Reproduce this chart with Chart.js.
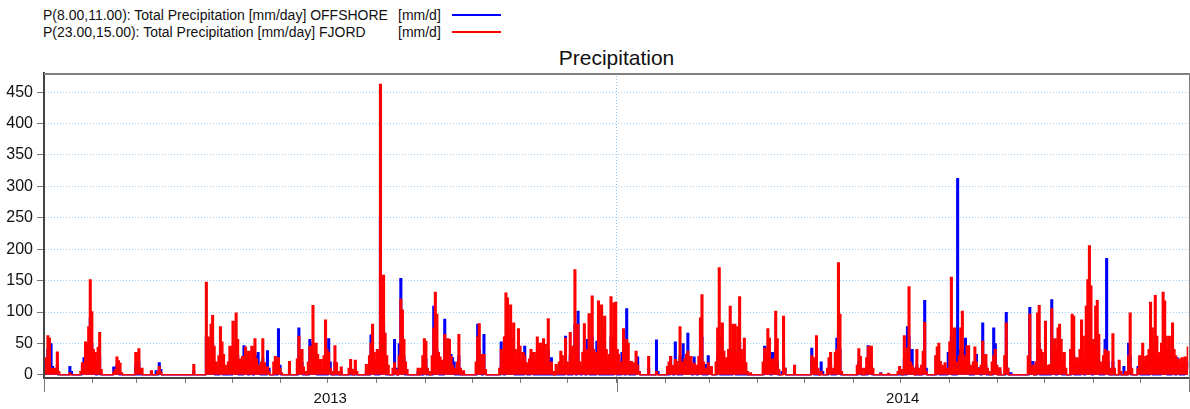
<!DOCTYPE html>
<html>
<head>
<meta charset="utf-8">
<script src="https://cdn.jsdelivr.net/npm/chart.js@4.4.1/dist/chart.umd.min.js"></script>
<style>
  html, body { margin: 0; padding: 0; background: #fff; }
  body { width: 1190px; height: 409px; position: relative; overflow: hidden; font-family: "Liberation Sans", Arial, sans-serif; }
  #chartBox { position: absolute; left: 0; top: 0; width: 1190px; height: 409px; }
  .legend-row { position: absolute; left: 43px; font-size: 14px; color: #111; white-space: nowrap; line-height: 16px; }
  .legend-unit { position: absolute; left: 398px; font-size: 14px; color: #111; line-height: 16px; }
  .legend-line { position: absolute; left: 452px; width: 49px; height: 2px; }
  #title { position: absolute; left: 44px; width: 1145px; top: 46px; text-align: center; font-size: 21px; color: #111; }
</style>
</head>
<body>
<div class="legend-row" style="top:7px">P(8.00,11.00): Total Precipitation [mm/day] OFFSHORE</div>
<div class="legend-unit" style="top:7px">[mm/d]</div>
<div class="legend-line" style="top:14px;background:#0000ff"></div>
<div class="legend-row" style="top:24px">P(23.00,15.00): Total Precipitation [mm/day] FJORD</div>
<div class="legend-unit" style="top:24px">[mm/d]</div>
<div class="legend-line" style="top:31px;background:#ff0000"></div>
<div id="title">Precipitation</div>
<div id="chartBox"><canvas id="rainChart" width="1190" height="409"></canvas></div>

<script>
// ============================
// DATA (day 0 = 1 Jan 2013, 730 days)
// ============================
const DAYS = 730;
const monthStarts = [0, 31, 59, 90, 120, 151, 181, 212, 243, 273, 304, 334,
  365, 396, 424, 455, 485, 516, 546, 577, 608, 638, 669, 699, 730];
const yearStarts = [0, 365, 730];
const yearLabels = ["2013", "2014"];
const yTicks = [0, 50, 100, 150, 200, 250, 300, 350, 400, 450];

// [day, mm/day] - FJORD, P(23.00,15.00)
const fjordRain = [
  [0,27],[1,20],[2,62],[3,58],[4,10],[5,8],[6,10],[7,6],[8,36],[9,5],[16,3],[23,5],[24,19],[25,15],
  [26,52],[27,45],[28,76],[29,151],[30,100],[31,40],[32,35],[33,20],[34,43],[35,67],[36,8],
  [44,4],[45,8],[46,28],[47,22],[48,18],[49,3],[58,35],[59,12],[60,41],[61,8],[62,10],
  [68,6],[72,5],[73,13],[74,4],[95,16],
  [103,147],[104,60],[105,37],[106,80],[107,94],[108,45],[109,20],[110,10],[111,30],[112,76],[113,52],
  [114,32],[115,15],[116,5],[117,20],[118,45],[119,42],[120,85],[121,40],[122,98],[123,56],[124,19],
  [125,25],[126,29],[127,29],[128,44],[129,30],[130,37],[131,20],[132,45],[133,37],[134,57],[135,25],
  [136,15],[137,8],[138,20],[139,57],[140,19],[141,10],[142,12],[143,5],[146,20],[147,29],[148,25],
  [149,27],[150,10],[151,3],[156,21],
  [161,25],[162,61],[163,30],[164,40],[165,12],[166,5],[168,20],[169,45],[170,25],[171,110],[172,35],
  [173,50],[174,32],[175,20],[176,24],[177,10],[178,30],[179,87],[180,40],[181,35],[182,10],[183,5],
  [185,46],[186,19],[187,5],[189,12],[194,10],[195,24],[196,8],[198,23],[199,5],
  [205,16],[207,30],[208,50],[209,80],[210,35],[211,20],[212,40],[213,30],[214,462],[215,140],[216,158],
  [217,66],[218,30],[219,15],[222,10],[223,19],[224,8],[226,30],[227,120],[228,103],[229,56],[230,20],
  [231,8],[238,10],[240,10],[241,30],[242,57],[243,53],[244,10],[245,5],
  [247,30],[248,74],[249,131],[250,96],[251,35],[252,28],[253,23],[254,10],[255,64],[256,30],[257,57],
  [258,56],[259,29],[260,15],[261,10],[262,8],[263,20],[264,64],[265,10],[267,6],
  [275,20],[276,60],[277,81],[278,32],[279,20],[280,32],[281,8],
  [290,10],[291,40],[292,30],[293,60],[294,130],[295,122],[296,70],[297,111],[298,58],[299,82],[300,40],
  [301,30],[302,73],[303,45],[304,20],[305,35],[306,30],[307,19],[308,10],[309,25],[310,40],[311,30],
  [312,35],[313,20],[314,60],[315,40],[316,50],[317,35],[318,57],[319,48],[320,20],[321,89],[322,15],
  [323,20],[324,5],[326,16],[327,5],
  [328,20],[329,37],[330,30],[331,15],[332,58],[333,20],[334,10],[335,67],[336,40],[337,45],[338,167],
  [339,60],[340,80],[341,20],[342,10],[343,35],[344,81],[345,40],[346,30],[347,97],[348,50],[349,125],
  [350,40],[351,20],[352,35],[353,117],[354,60],[355,111],[356,73],[357,93],[358,40],[359,20],[360,32],
  [361,124],[362,60],[363,114],[364,115],
  [365,40],[366,32],[367,15],[368,20],[369,73],[370,27],[371,56],[372,50],[373,15],[374,21],[375,19],
  [376,10],[377,37],[378,15],[379,5],[385,29],[390,5],
  [397,13],[398,20],[399,29],[400,10],[401,15],[402,24],[403,21],[404,10],[405,76],[406,20],[407,15],
  [408,25],[409,32],[410,37],[411,20],[412,29],[413,10],[414,18],[415,10],[416,15],[417,29],[418,90],
  [419,127],[420,20],[421,10],[422,8],[423,19],[424,5],[425,13],
  [428,20],[429,74],[430,170],[431,40],[432,82],[433,37],[434,20],[435,27],[436,40],[437,109],[438,30],
  [439,80],[440,80],[441,30],[442,76],[443,124],[444,40],[445,20],[446,58],[447,19],[448,5],[450,3],
  [458,20],[459,42],[460,30],[461,73],[462,58],[463,20],[464,25],[465,10],[466,101],[467,57],[468,8],
  [471,93],[472,10],[478,15],
  [489,30],[490,27],[491,20],[492,62],[493,10],[495,5],[499,10],[500,27],[501,35],[502,5],[503,10],
  [504,35],[505,40],[506,178],[507,96],[508,5],
  [518,15],[519,41],[520,29],[521,10],[523,10],[524,27],[525,44],[526,45],[527,45],[528,10],
  [533,2],[538,2],[544,5],[545,13],[546,8],[548,62],[549,30],[550,42],[551,140],[552,20],[553,15],
  [554,10],[556,40],[557,10],[559,15],[560,37],[561,83],[562,5],
  [568,30],[569,44],[570,50],[571,21],[572,15],[573,10],[574,19],[575,10],[576,5],[577,52],[578,155],
  [579,30],[580,74],[581,20],[582,10],[583,30],[584,74],[585,101],[586,25],[587,30],[588,46],[589,46],
  [590,15],[591,10],[592,20],[593,44],[594,20],[595,10],[596,5],[597,15],[598,53],[599,20],[600,32],
  [601,10],[602,5],[604,20],[605,30],[606,40],[607,15],[609,11],
  [612,30],[613,82],[614,10],
  [627,30],[628,96],[629,10],[630,15],[632,20],[633,98],[634,110],[635,40],[636,35],[637,10],[638,85],
  [639,10],[640,15],[641,16],[642,105],[643,40],[644,57],[645,40],[646,74],[647,80],[648,56],[649,20],
  [650,35],[651,10],
  [654,40],[655,96],[656,93],[657,20],[658,27],[659,20],[660,40],[661,87],[662,61],[663,30],[664,109],
  [665,151],[666,205],[667,141],[668,50],[669,56],[670,109],[671,118],[672,64],[673,20],[674,10],
  [675,30],[676,40],[677,35],[678,37],[679,10],[681,65],[682,10],[685,23],[686,5],[689,5],[691,30],
  [692,98],[693,10],
  [697,10],[698,30],[699,20],[700,50],[701,20],[702,29],[703,30],[704,40],[705,115],[706,74],[707,40],
  [708,126],[709,61],[710,30],[711,35],[712,50],[713,131],[714,117],[715,61],[716,40],[717,61],[718,30],
  [719,82],[720,40],[721,30],[722,20],[723,25],[724,15],[725,27],[726,20],[727,28],[728,10],[729,44]
];

// [day, mm/day] - OFFSHORE, P(8.00,11.00)
const offshoreRain = [
  [0,20],[1,15],[2,40],[3,30],[4,49],[5,13],[6,8],[7,4],[8,15],[16,13],[17,5],[24,15],[25,27],[26,30],
  [27,40],[28,45],[29,90],[30,50],[31,20],[32,15],[34,20],[35,30],[44,12],[45,5],[46,15],[47,10],
  [58,15],[60,20],[68,4],[71,6],[73,19],[74,8],[95,6],
  [103,60],[104,30],[105,20],[106,40],[107,50],[108,20],[112,40],[113,30],[118,20],[120,40],[121,30],
  [122,50],[123,30],[125,15],[127,46],[128,20],[129,25],[131,15],[132,25],[134,30],[135,20],[136,35],
  [137,10],[139,25],[142,38],[143,10],[147,15],[149,73],[150,15],
  [156,8],[162,74],[163,20],[164,20],[169,56],[170,15],[171,50],[172,20],[173,30],[176,10],[179,40],
  [181,57],[182,20],[185,20],[189,5],[195,10],[198,10],[205,5],[208,63],[209,40],[210,20],[212,20],
  [214,250],[215,102],[216,80],[217,30],[223,56],[224,10],[226,49],[227,153],[228,60],[229,30],
  [238,5],[242,30],[243,25],
  [248,109],[249,60],[250,40],[251,15],[253,10],[255,88],[256,20],[257,40],[258,56],[259,32],[260,27],
  [261,20],[264,30],[267,3],[276,80],[277,40],[278,20],[280,64],[281,5],
  [291,52],[292,20],[294,60],[295,50],[296,40],[297,50],[298,20],[299,40],[302,35],[306,45],[307,15],
  [310,30],[311,35],[314,30],[316,20],[318,30],[321,40],[323,27],[326,5],[329,20],[332,61],[333,10],
  [335,30],[337,20],[338,80],[340,101],[341,10],[343,15],[344,40],[346,56],[347,40],[349,60],[352,53],
  [353,50],[355,50],[357,40],[359,10],[361,60],[363,50],[364,40],
  [366,20],[368,35],[369,30],[371,105],[372,20],[374,10],[377,20],[378,28],[379,5],[385,10],[390,55],
  [391,5],[397,8],[399,29],[400,5],[402,52],[403,10],[405,30],[407,49],[408,10],[409,20],[410,66],
  [411,10],[412,15],[414,28],[415,5],[417,15],[418,40],[419,60],[421,16],[423,30],[424,5],[425,8],
  [429,30],[430,60],[432,30],[437,40],[439,30],[440,40],[443,50],[446,20],
  [459,45],[460,20],[461,30],[462,20],[464,35],[465,10],[466,40],[467,20],[470,5],[471,30],[472,10],
  [478,4],
  [489,42],[490,20],[492,30],[495,20],[496,5],[500,10],[501,15],[505,58],[506,70],[507,40],[519,20],
  [520,10],[525,46],[526,20],[527,20],[533,3],[545,5],[548,25],[550,76],[551,60],[552,10],[553,40],
  [554,10],[556,15],[560,15],[561,118],[562,10],
  [569,20],[570,20],[574,10],[576,35],[577,20],[578,60],[580,30],[582,312],[583,40],[584,30],[585,40],
  [586,40],[587,58],[588,20],[589,20],[593,20],[594,32],[595,11],[596,11],[598,82],[599,10],[600,15],
  [605,74],[606,49],[607,10],[609,5],
  [613,99],[614,10],[616,3],[628,107],[629,10],[630,21],[633,40],[634,50],[638,30],[642,119],[643,20],
  [644,20],[646,30],[647,40],[648,20],[655,40],[656,30],[661,30],[662,20],[664,40],[665,60],[666,80],
  [667,50],[669,20],[670,40],[671,50],[672,20],[676,56],[677,185],[678,20],[681,20],[688,13],[691,50],
  [692,30],[697,13],[698,10],[700,20],[702,10],[705,40],[706,30],[708,50],[710,20],[712,30],[713,50],
  [714,40],[715,20],[717,20],[719,30],[720,20],[722,27],[723,19],[725,10],[727,15],[728,13],[729,20]
];

// ============================
// BUILD DAILY SERIES (days not listed were dry)
// ============================
function toDaily(pairs) {
  const daily = new Array(DAYS).fill(0);
  pairs.forEach(([d, v]) => { daily[d] = v; });
  return daily.map((v, d) => ({ x: d + 0.5, y: v }));
}

const FONT = "'Liberation Sans', Arial, sans-serif";

// ============================
// EXTRA AXIS DECORATION (long year ticks, grey frame)
// ============================
const frameAndYearTicks = {
  id: "frameAndYearTicks",
  afterDraw(chart) {
    const { ctx, chartArea } = chart;
    const xs = chart.scales.x;
    ctx.save();
    ctx.strokeStyle = "#808080";
    ctx.lineWidth = 2;
    ctx.beginPath();
    ctx.moveTo(chartArea.left, chartArea.top + 1);
    ctx.lineTo(chartArea.right + 1, chartArea.top + 1);
    ctx.lineTo(chartArea.right + 1, chartArea.bottom);
    ctx.stroke();
    ctx.strokeStyle = "#777";
    ctx.lineWidth = 1;
    ctx.beginPath();
    yearStarts.forEach((d) => {
      const px = Math.round(xs.getPixelForValue(d)) + 0.5;
      ctx.moveTo(px, chartArea.bottom);
      ctx.lineTo(px, chartArea.bottom + 14);
    });
    ctx.stroke();
    ctx.restore();
  }
};

// ============================
// CHART
// ============================
const ctx = document.getElementById("rainChart").getContext("2d");

new Chart(ctx, {
  type: "line",
  data: {
    datasets: [
      {
        label: "P(8.00,11.00): Total Precipitation [mm/day] OFFSHORE [mm/d]",
        data: toDaily(offshoreRain),
        borderColor: "#0000ff",
        backgroundColor: "#0000ff",
        borderWidth: 1.5,
        pointRadius: 0,
        stepped: "middle",
        fill: "origin",
        order: 1
      },
      {
        label: "P(23.00,15.00): Total Precipitation [mm/day] FJORD [mm/d]",
        data: toDaily(fjordRain),
        borderColor: "#ff0000",
        backgroundColor: "#ff0000",
        borderWidth: 1.5,
        pointRadius: 0,
        stepped: "middle",
        fill: "origin",
        order: 0
      }
    ]
  },
  options: {
    responsive: false,
    animation: false,
    layout: { padding: { top: 73, right: 1, left: 0, bottom: 0 } },
    plugins: {
      legend: { display: false },
      title: { display: false },
      tooltip: { enabled: false },
      filler: { propagate: false }
    },
    scales: {
      x: {
        type: "linear",
        min: 0,
        max: DAYS,
        afterBuildTicks: (scale) => {
          const t = monthStarts.map((v) => ({ value: v }));
          t.push({ value: 182.5 }, { value: 547.5 });
          scale.ticks = t;
        },
        afterFit: (scale) => { scale.height = 31; },
        ticks: {
          autoSkip: false,
          maxRotation: 0,
          padding: 7,
          color: "#111",
          font: { family: FONT, size: 15 },
          callback: (v) => (v === 182.5 ? yearLabels[0] : v === 547.5 ? yearLabels[1] : "")
        },
        grid: {
          color: (c) => (c.tick && c.tick.value === 365 ? "#8cc4ee" : "rgba(0,0,0,0)"),
          tickColor: (c) => (c.tick && (c.tick.value === 182.5 || c.tick.value === 547.5) ? "rgba(0,0,0,0)" : "#777"),
          tickLength: 5,
          lineWidth: 1
        },
        border: { display: true, color: "#444", width: 2, dash: [1, 2] }
      },
      y: {
        min: -5,
        max: 480.5,
        afterBuildTicks: (scale) => { scale.ticks = yTicks.map((v) => ({ value: v })); },
        afterFit: (scale) => { scale.width = 44; },
        ticks: {
          padding: 4,
          color: "#111",
          font: { family: FONT, size: 16 }
        },
        grid: {
          color: (c) => (c.tick && c.tick.value === 0 ? "rgba(0,0,0,0)" : "#9fd0f5"),
          tickColor: "#777",
          tickLength: 7,
          lineWidth: 1
        },
        border: { display: true, color: "#444", width: 2, dash: [1, 2] }
      }
    }
  },
  plugins: [frameAndYearTicks]
});
</script>
</body>
</html>
